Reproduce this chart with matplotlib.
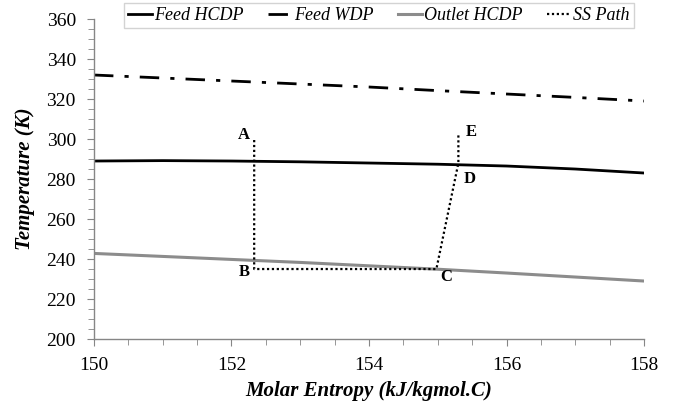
import numpy as np
import matplotlib
matplotlib.use('Agg')
from matplotlib import pyplot as plt
from matplotlib.ticker import MultipleLocator

plt.rcParams['font.family'] = ['Liberation Serif', 'DejaVu Serif']

# curve data
entropy = [150, 151, 152, 153, 154, 155, 156, 157, 158]
feed_hcdp = [289.0, 289.2, 289.0, 288.6, 288.0, 287.4, 286.5, 285.0, 283.0]
feed_wdp = [332.0, 330.5, 329.0, 327.5, 326.0, 324.2, 322.5, 320.8, 319.0]
outlet_hcdp = [242.8, 241.3, 239.8, 238.3, 236.6, 234.9, 233.0, 231.0, 229.0]

# supersonic separator path A-B-C-D-E
path_s = [152.33, 152.33, 154.98, 155.30, 155.30]
path_t = [299.5, 235.0, 235.0, 288.0, 302.5]
path_labels = ['A', 'B', 'C', 'D', 'E']
label_s = [152.18, 152.18, 155.12, 155.47, 155.49]
label_t = [302.0, 233.6, 231.2, 279.8, 303.6]

fig = plt.figure(figsize=(6.78, 4.07), dpi=100)
ax = fig.add_axes([0.1386, 0.167, 0.8113, 0.7863])

ax.plot(entropy, feed_hcdp, color='black', lw=2.0, label='Feed HCDP')
ax.plot(entropy, feed_wdp, color='black', lw=2.0, dashes=(7, 4, 1.5, 4), label='Feed WDP')
ax.plot(entropy, outlet_hcdp, color='#8c8c8c', lw=2.2, label='Outlet HCDP')
ax.plot(path_s, path_t, color='black', lw=1.6, linestyle=(0, (1, 1.2)), label='SS Path')

for lab, s, t in zip(path_labels, label_s, label_t):
    ax.text(s, t, lab, fontsize=12, fontweight='bold', ha='center', va='center')

ax.set_xlim(150, 158)
ax.set_ylim(200, 360)
ax.xaxis.set_major_locator(MultipleLocator(2))
ax.xaxis.set_minor_locator(MultipleLocator(0.5))
ax.yaxis.set_major_locator(MultipleLocator(20))
ax.yaxis.set_minor_locator(MultipleLocator(5))

for side in ['top', 'right']:
    ax.spines[side].set_visible(False)
for side in ['left', 'bottom']:
    ax.spines[side].set_color('#868686')
    ax.spines[side].set_linewidth(1.0)

ax.tick_params(which='both', direction='out', color='#868686', labelsize=14)
ax.tick_params(which='major', length=5)
ax.tick_params(which='minor', length=4)
ax.tick_params(axis='x', pad=8)
ax.tick_params(axis='y', pad=8)

ax.set_xlabel('Molar Entropy (kJ/kgmol.C)', fontsize=15, fontweight='bold', style='italic', labelpad=5)
ax.set_ylabel('Temperature (K)', fontsize=15, fontweight='bold', style='italic', labelpad=8)

leg = fig.legend(loc='center', bbox_to_anchor=(0.559, 0.9617), ncol=4,
                 prop={'style': 'italic', 'size': 13}, frameon=True, fancybox=False,
                 edgecolor='#c8c8c8', handlelength=1.3, handletextpad=0.15,
                 columnspacing=1.35, borderpad=0.22)
leg.get_frame().set_linewidth(1.0)

fig.savefig('out.png', dpi=100)
